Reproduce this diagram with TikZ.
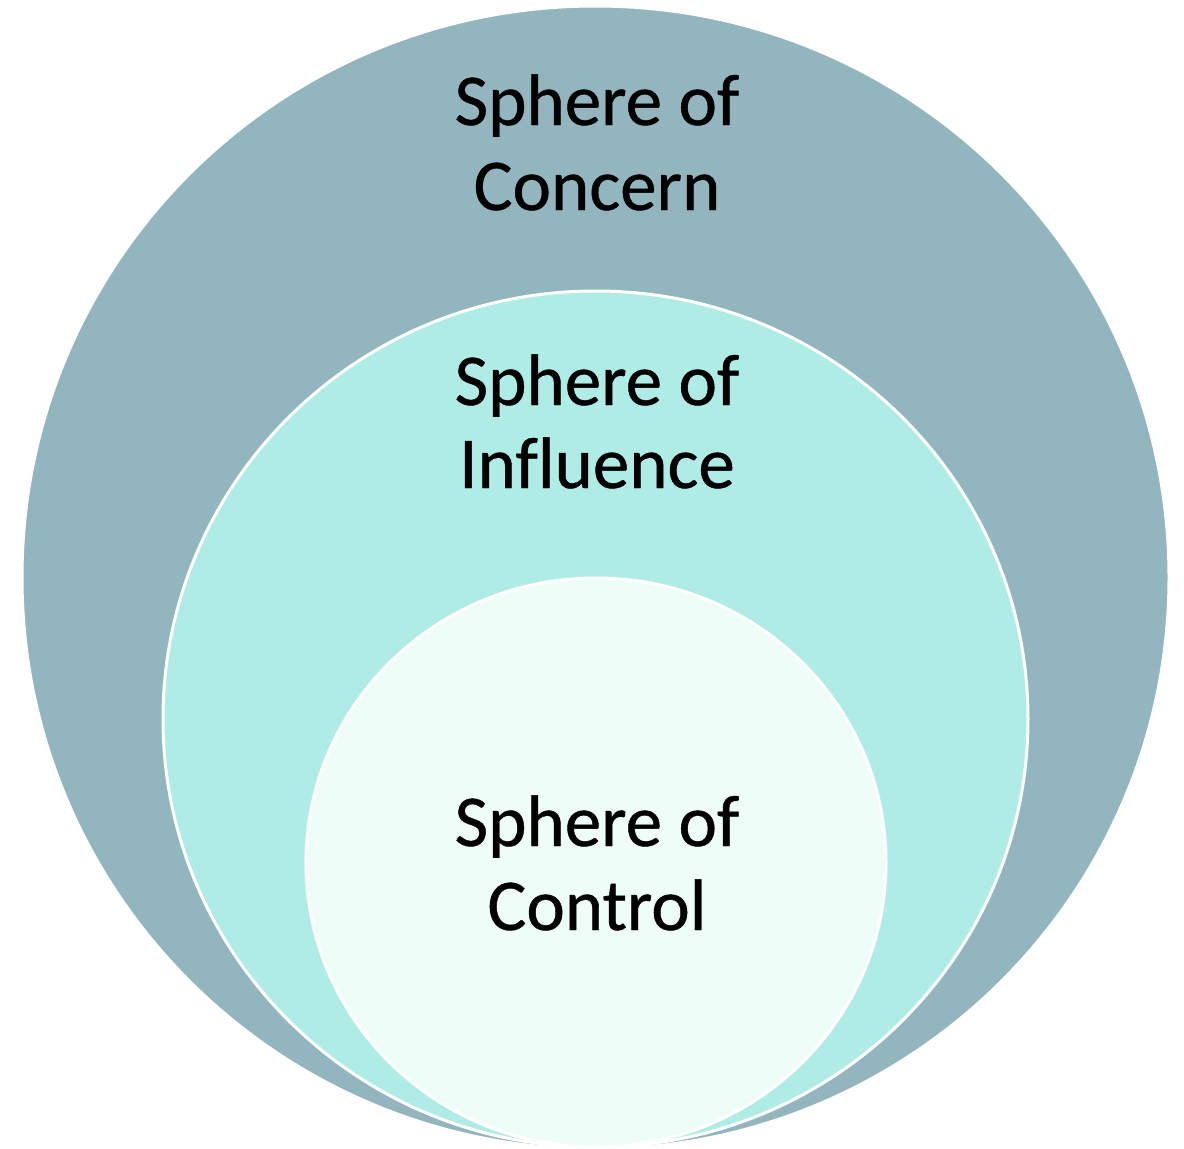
\documentclass[tikz,border=0pt]{standalone}
\usepackage{fontspec}
\setmainfont{Carlito}[Ligatures=NoCommon]
\newfontfamily\lblfont{Carlito}[Ligatures=NoCommon, FakeBold=0.6]
\definecolor{concern}{HTML}{93B6BE}
\definecolor{influence}{HTML}{B0ECE6}
\definecolor{control}{HTML}{EFFDF9}
\begin{document}
\begin{tikzpicture}[x=1pt,y=-1pt,
  sphere/.style={line width=3pt, draw=white},
  lbl/.style={anchor=base, inner sep=0pt, font=\lblfont\fontsize{73}{84}\selectfont}]
\useasboundingbox (0,0) rectangle (1184,1149);
\fill[white] (0,0) rectangle (1184,1149);
\path[fill=concern, draw=white, line width=1pt] (595.5,577.5) ellipse [x radius=572.5, y radius=570.5];
\path[sphere, fill=influence] (595.5,719) ellipse [x radius=432.5, y radius=428];
\path[sphere, fill=control] (596,862.5) ellipse [x radius=290, y radius=284.5];
\node[lbl] (c1) at (597,125) {Sphere of};
\node[lbl] (c2) at (597,210) {Concern};
\node[lbl] (i1) at (597,405) {Sphere of};
\node[lbl] (i2) at (597,488) {Influence};
\node[lbl] (k1) at (597,846) {Sphere of};
\node[lbl] (k2) at (597,930) {Control};
\end{tikzpicture}
\end{document}
